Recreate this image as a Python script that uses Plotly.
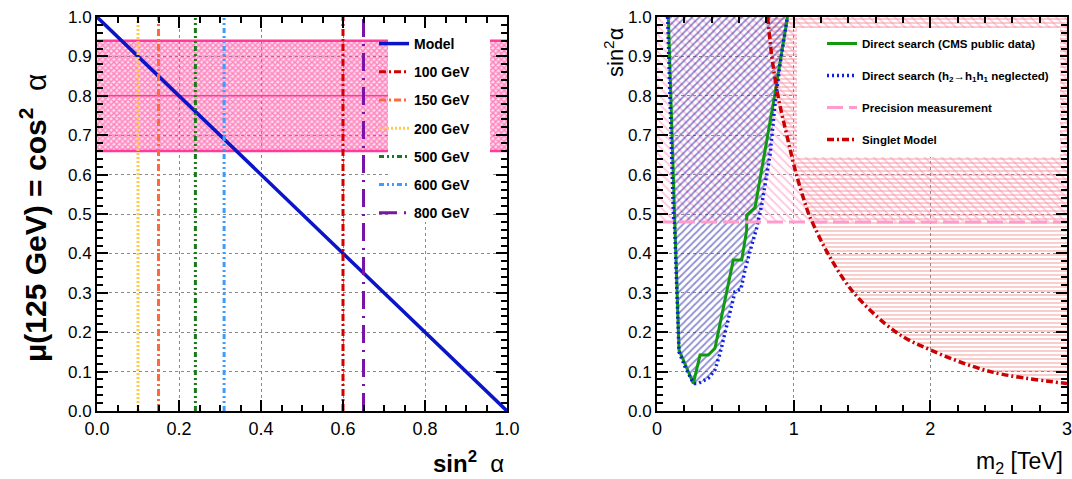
import plotly.graph_objects as go

# ---------------- data: left panel ----------------
model_x = [0.0, 1.0]
model_y = [1.0, 0.0]
mass_labels = ["100 GeV", "150 GeV", "200 GeV", "500 GeV", "600 GeV", "800 GeV"]
mass_sin2 = [0.60, 0.15, 0.10, 0.24, 0.31, 0.65]
mass_colors = ["#d40000", "#ff6a3d", "#ffcc44", "#1a7a1a", "#3d9cff", "#7a14a8"]
mass_dash = ["7px,3px,2px,3px", "7px,3px,2px,3px", "2px,2px", "5px,3px,2px,3px,2px,3px",
             "5px,3px,2px,3px,2px,3px", "18px,7px,2px,7px"]
band_low, band_center, band_high = 0.66, 0.80, 0.94

# ---------------- data: right panel ----------------
cms_m = [0.083, 0.124, 0.132, 0.161, 0.266, 0.315, 0.375, 0.424, 0.51, 0.558, 0.62, 0.656,
         0.656, 0.717, 0.863, 0.949, 0.955]
cms_s = [1.0, 0.497, 0.459, 0.155, 0.07, 0.142, 0.142, 0.159, 0.299, 0.383, 0.383, 0.459,
         0.497, 0.516, 0.805, 0.99, 1.0]
neg_m = [0.078, 0.12, 0.13, 0.161, 0.205, 0.254, 0.278, 0.302, 0.375, 0.424, 0.461, 0.485,
         0.546, 0.571, 0.614, 0.644, 0.693, 0.729, 0.766, 0.827, 0.863, 0.9, 0.949, 0.955]
neg_s = [1.0, 0.5, 0.46, 0.15, 0.112, 0.079, 0.07, 0.07, 0.083, 0.104, 0.146, 0.18,
         0.265, 0.303, 0.309, 0.358, 0.421, 0.464, 0.523, 0.65, 0.777, 0.878, 0.99, 1.0]
precision_s = 0.48
singlet_m = [0.81, 0.84, 0.885, 0.95, 1.02, 1.11, 1.135, 1.25, 1.44, 1.75, 2.0, 2.44, 3.0]
singlet_s = [1.0, 0.9, 0.8, 0.7, 0.6, 0.5, 0.48, 0.4, 0.3, 0.2, 0.155, 0.1, 0.07]
m_range = [0.0, 3.0]

FONT = "Liberation Sans, Arial, Helvetica, sans-serif"
fig = go.Figure()
TR = "rgba(0,0,0,0)"

# ---- left panel: band ----
fig.add_trace(go.Scatter(
    x=[0, 1, 1, 0, 0], y=[band_low, band_low, band_high, band_high, band_low],
    mode="lines", line=dict(width=0, color=TR), fill="toself", fillcolor=TR,
    fillpattern=dict(shape="x", fgcolor="#ff2a90", bgcolor="rgba(255,90,170,0.22)",
                     size=4, solidity=0.6),
    showlegend=False, hoverinfo="skip", xaxis="x", yaxis="y"))
for yv, w in [(band_low, 2.5), (band_center, 1.5), (band_high, 2.5)]:
    fig.add_trace(go.Scatter(x=[0, 1], y=[yv, yv], mode="lines",
                             line=dict(color="#ff3a9a", width=w), showlegend=False,
                             hoverinfo="skip", xaxis="x", yaxis="y"))

# model line
fig.add_trace(go.Scatter(x=model_x, y=model_y, mode="lines", name="Model",
                         line=dict(color="#0a14c8", width=3.5), legendgroup="m",
                         legend="legend", xaxis="x", yaxis="y"))
for lab, v, c, d in zip(mass_labels, mass_sin2, mass_colors, mass_dash):
    fig.add_trace(go.Scatter(x=[v, v], y=[0, 1], mode="lines", name=lab,
                             line=dict(color=c, width=3, dash=d), legendgroup=lab,
                             legend="legend", xaxis="x", yaxis="y"))

# ---- right panel ----
fig.add_trace(go.Scatter(
    x=singlet_m + [m_range[1], singlet_m[0]], y=singlet_s + [1.0, 1.0],
    mode="lines", line=dict(width=0, color=TR), fill="toself", fillcolor=TR,
    fillpattern=dict(shape="-", fgcolor="#ee5a5a", bgcolor=TR, size=4, solidity=0.3),
    showlegend=False, hoverinfo="skip", xaxis="x2", yaxis="y2"))
fig.add_trace(go.Scatter(
    x=[m_range[0], m_range[1], m_range[1], m_range[0], m_range[0]],
    y=[precision_s, precision_s, 1, 1, precision_s],
    mode="lines", line=dict(width=0, color=TR), fill="toself", fillcolor=TR,
    fillpattern=dict(shape="\\", fgcolor="#ff88bb", bgcolor=TR, size=6, solidity=0.3),
    showlegend=False, hoverinfo="skip", xaxis="x2", yaxis="y2"))
fig.add_trace(go.Scatter(
    x=neg_m + [neg_m[0]], y=neg_s + [neg_s[0]],
    mode="lines", line=dict(width=0, color=TR), fill="toself", fillcolor=TR,
    fillpattern=dict(shape="/", fgcolor="#1c1caa", bgcolor=TR, size=5, solidity=0.35),
    showlegend=False, hoverinfo="skip", xaxis="x2", yaxis="y2"))

fig.add_trace(go.Scatter(x=cms_m, y=cms_s, mode="lines", name="Direct search (CMS public data)",
                         line=dict(color="#119911", width=3), legend="legend2", legendgroup="a",
                         xaxis="x2", yaxis="y2"))
fig.add_trace(go.Scatter(x=neg_m, y=neg_s, mode="lines",
                         name="Direct search (h<sub>2</sub>→h<sub>1</sub>h<sub>1</sub> neglected)",
                         line=dict(color="#1020e0", width=3.5, dash="2px,3px"), legend="legend2",
                         legendgroup="b", xaxis="x2", yaxis="y2"))
fig.add_trace(go.Scatter(x=m_range, y=[precision_s, precision_s], mode="lines",
                         name="Precision measurement",
                         line=dict(color="#ff9ccc", width=3, dash="16px,6px"), legend="legend2",
                         legendgroup="c", xaxis="x2", yaxis="y2"))
fig.add_trace(go.Scatter(x=singlet_m, y=singlet_s, mode="lines", name="Singlet Model",
                         line=dict(color="#cc0000", width=3.5, dash="7px,3px,2px,3px", shape="spline"),
                         legend="legend2", legendgroup="d", xaxis="x2", yaxis="y2"))

def ax(domain, rng, dtick, minor_dtick, fmt, anchor, tickvals=None, size=18):
    d = dict(domain=domain, range=rng, anchor=anchor, showline=True, linewidth=2,
             linecolor="black", mirror="ticks", ticks="inside", ticklen=11, tickwidth=2,
             tickcolor="black", showgrid=True, gridcolor="#8a8a8a", griddash="dot",
             gridwidth=1, zeroline=False, automargin=False, ticklabeloverflow="allow",
             tickfont=dict(family=FONT, size=size, color="black"),
             minor=dict(ticks="inside", ticklen=6, tickwidth=1.5, tickcolor="black",
                        dtick=minor_dtick, showgrid=False))
    if tickvals is not None:
        d["tickvals"] = tickvals
    else:
        d["dtick"] = dtick
        d["tick0"] = 0
    if fmt:
        d["tickformat"] = fmt
    return d

xd1 = [97 / 1072, 507 / 1072]
xd2 = [657 / 1072, 1067 / 1072]
yd = [1 - 411 / 479, 1 - 17 / 479]

def px_x(p):
    return p / 1072

def px_y(p):
    return 1 - p / 479

fig.update_layout(
    width=1072, height=479, margin=dict(l=0, r=0, t=0, b=0, autoexpand=False),
    paper_bgcolor="white", plot_bgcolor="white",
    xaxis=ax(xd1, [0, 1], 0.2, 0.05, ".1f", "y"),
    yaxis=ax(yd, [0, 1], 0.1, 0.02, ".1f", "x", size=17),
    xaxis2=ax(xd2, [0, 3], None, 0.2, None, "y2", tickvals=[0, 1, 2, 3]),
    yaxis2=ax(yd, [0, 1], 0.1, 0.02, ".1f", "x2", size=17),
    legend=dict(x=px_x(374), y=px_y(28), xanchor="left", yanchor="top",
                bgcolor=TR, borderwidth=0, tracegroupgap=7,
                font=dict(family=FONT, size=14, color="black", weight="bold")),
    legend2=dict(x=px_x(822), y=px_y(29), xanchor="left", yanchor="top",
                 bgcolor=TR, borderwidth=0, tracegroupgap=13,
                 font=dict(family=FONT, size=11.5, color="black", weight="bold")),
    showlegend=True,
    shapes=[
        dict(type="rect", xref="paper", yref="paper", x0=px_x(388), x1=px_x(490),
             y0=px_y(222), y1=px_y(28), fillcolor="white", line=dict(width=0), layer="above"),
        dict(type="rect", xref="paper", yref="paper", x0=px_x(797), x1=px_x(1060),
             y0=px_y(157), y1=px_y(28), fillcolor="white", line=dict(width=0), layer="above"),
    ],
)

annots = [
    dict(text="<b>μ(125 GeV) = cos<sup>2</sup></b>  α", x=px_x(33), y=px_y(218),
         textangle=-90, font=dict(size=30)),
    dict(text="<b>sin<sup>2</sup></b>  α", x=px_x(468), y=px_y(462), font=dict(size=24)),
    dict(text="sin<sup>2</sup>α", x=px_x(614), y=px_y(52), textangle=-90, font=dict(size=22)),
    dict(text="m<sub>2</sub> [TeV]", x=px_x(1019), y=px_y(462), font=dict(size=23)),
]
for a in annots:
    a.update(xref="paper", yref="paper", showarrow=False, xanchor="center", yanchor="middle")
    a["font"].update(family=FONT, color="black")
    fig.add_annotation(**a)

fig.write_html("out.html")
